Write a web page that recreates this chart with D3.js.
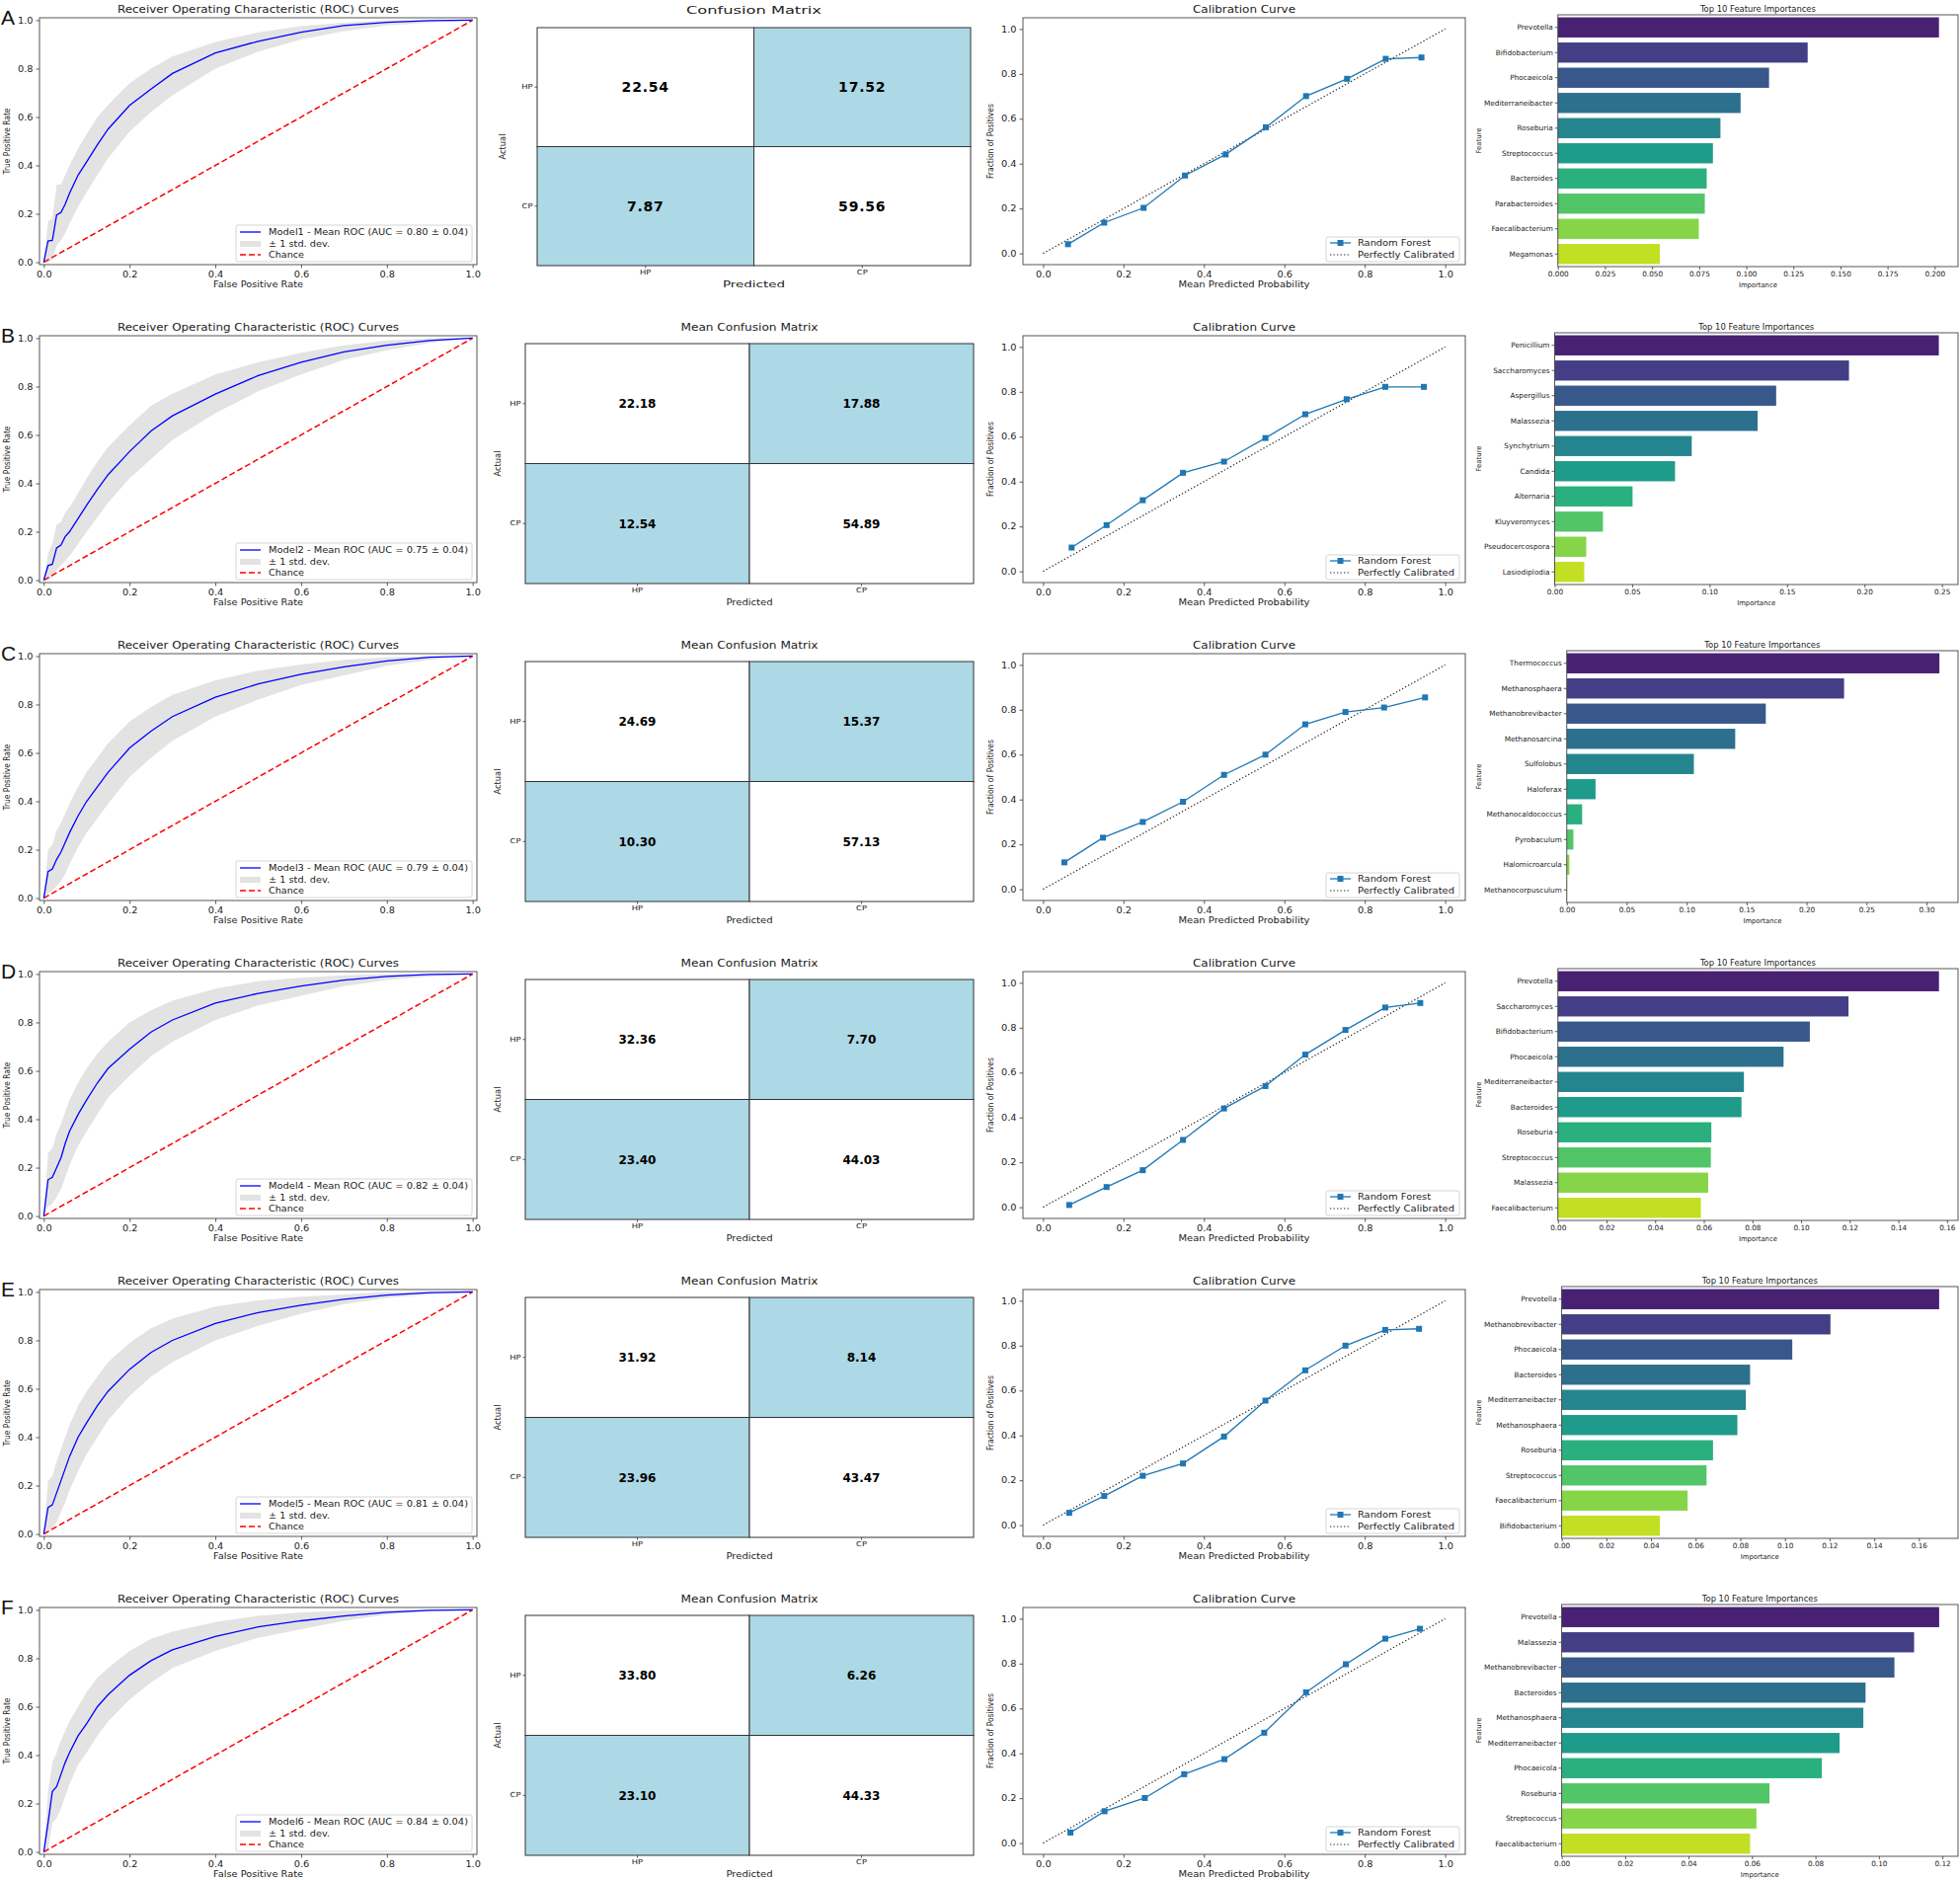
<!DOCTYPE html>
<meta charset="utf-8">
<style>
  body { margin: 0; background: #fff; }
  svg { display: block; font-family: "DejaVu Sans", sans-serif; }
</style>
<body>
<script src="https://cdn.jsdelivr.net/npm/d3@7"></script>
<script>
  'use strict';

  // ---- data ----
  const rowLetters = ["A", "B", "C", "D", "E", "F"];
  const modelNames = ["Model1", "Model2", "Model3", "Model4", "Model5", "Model6"];
  const aucMean = [0.80, 0.75, 0.79, 0.82, 0.81, 0.84];
  const aucStd = [0.04, 0.04, 0.04, 0.04, 0.04, 0.04];

  const fprGrid = [0, 0.01, 0.02, 0.03, 0.04, 0.05, 0.06, 0.08, 0.1, 0.125, 0.15, 0.2, 0.25, 0.3, 0.4, 0.5, 0.6, 0.7, 0.8, 0.9, 1.0];
  const rocMean = [
    [0, 0.088, 0.09, 0.195, 0.205, 0.24, 0.285, 0.36, 0.415, 0.485, 0.55, 0.648, 0.715, 0.78, 0.865, 0.913, 0.95, 0.978, 0.991, 0.998, 1],
    [0, 0.06, 0.066, 0.133, 0.145, 0.18, 0.2, 0.255, 0.31, 0.375, 0.436, 0.531, 0.616, 0.679, 0.769, 0.845, 0.9, 0.943, 0.971, 0.99, 1],
    [0, 0.11, 0.12, 0.16, 0.19, 0.23, 0.27, 0.34, 0.4, 0.46, 0.52, 0.62, 0.69, 0.75, 0.83, 0.885, 0.925, 0.955, 0.98, 0.995, 1],
    [0, 0.15, 0.16, 0.2, 0.24, 0.3, 0.35, 0.42, 0.48, 0.55, 0.61, 0.69, 0.76, 0.81, 0.88, 0.92, 0.95, 0.975, 0.99, 0.998, 1],
    [0, 0.11, 0.12, 0.17, 0.22, 0.27, 0.32, 0.4, 0.46, 0.53, 0.59, 0.68, 0.75, 0.8, 0.87, 0.915, 0.945, 0.97, 0.987, 0.997, 1],
    [0, 0.12, 0.25, 0.27, 0.32, 0.37, 0.41, 0.48, 0.53, 0.6, 0.65, 0.73, 0.79, 0.835, 0.89, 0.93, 0.955, 0.975, 0.99, 0.998, 1]
  ];
  const rocUpper = [
    [0, 0.17, 0.18, 0.32, 0.32, 0.36, 0.4, 0.47, 0.53, 0.6, 0.65, 0.74, 0.8, 0.85, 0.91, 0.95, 0.975, 0.99, 1, 1, 1],
    [0, 0.11, 0.15, 0.23, 0.24, 0.28, 0.3, 0.36, 0.42, 0.49, 0.55, 0.64, 0.72, 0.77, 0.85, 0.9, 0.94, 0.97, 0.99, 1, 1],
    [0, 0.2, 0.22, 0.28, 0.31, 0.35, 0.39, 0.46, 0.52, 0.58, 0.64, 0.73, 0.79, 0.84, 0.9, 0.94, 0.965, 0.985, 0.995, 1, 1],
    [0, 0.26, 0.28, 0.34, 0.38, 0.43, 0.48, 0.55, 0.61, 0.67, 0.72, 0.8, 0.85, 0.89, 0.94, 0.97, 0.985, 0.995, 1, 1, 1],
    [0, 0.22, 0.24, 0.3, 0.35, 0.4, 0.45, 0.53, 0.59, 0.65, 0.71, 0.79, 0.85, 0.89, 0.94, 0.965, 0.98, 0.99, 1, 1, 1],
    [0, 0.25, 0.37, 0.41, 0.46, 0.5, 0.54, 0.6, 0.66, 0.72, 0.76, 0.83, 0.88, 0.91, 0.95, 0.975, 0.99, 0.997, 1, 1, 1]
  ];
  const rocLower = [
    [0, 0, 0.01, 0.07, 0.09, 0.12, 0.16, 0.23, 0.29, 0.36, 0.43, 0.54, 0.62, 0.69, 0.8, 0.87, 0.92, 0.955, 0.978, 0.99, 1],
    [0, 0, 0.01, 0.04, 0.06, 0.08, 0.1, 0.15, 0.2, 0.26, 0.32, 0.42, 0.5, 0.58, 0.69, 0.78, 0.85, 0.91, 0.95, 0.98, 1],
    [0, 0.02, 0.03, 0.05, 0.07, 0.1, 0.14, 0.21, 0.27, 0.33, 0.39, 0.5, 0.58, 0.65, 0.75, 0.82, 0.88, 0.92, 0.96, 0.985, 1],
    [0, 0.04, 0.05, 0.08, 0.11, 0.16, 0.21, 0.29, 0.35, 0.42, 0.49, 0.58, 0.66, 0.72, 0.81, 0.87, 0.91, 0.95, 0.975, 0.99, 1],
    [0, 0.01, 0.02, 0.05, 0.09, 0.13, 0.18, 0.26, 0.33, 0.4, 0.47, 0.57, 0.65, 0.71, 0.8, 0.86, 0.91, 0.95, 0.975, 0.99, 1],
    [0, 0.01, 0.12, 0.14, 0.18, 0.23, 0.28, 0.36, 0.41, 0.48, 0.54, 0.63, 0.7, 0.76, 0.83, 0.885, 0.92, 0.955, 0.98, 0.995, 1]
  ];

  const cmLabels = ["HP", "CP"];
  const cmTitles = ["Confusion Matrix", "Mean Confusion Matrix", "Mean Confusion Matrix",
                    "Mean Confusion Matrix", "Mean Confusion Matrix", "Mean Confusion Matrix"];
  // [HP-HP, HP-CP, CP-HP, CP-CP]
  const cmValues = [
    [22.54, 17.52, 7.87, 59.56],
    [22.18, 17.88, 12.54, 54.89],
    [24.69, 15.37, 10.30, 57.13],
    [32.36, 7.70, 23.40, 44.03],
    [31.92, 8.14, 23.96, 43.47],
    [33.80, 6.26, 23.10, 44.33]
  ];

  const calibPred = [
    [0.062, 0.152, 0.25, 0.353, 0.454, 0.554, 0.654, 0.756, 0.852, 0.941],
    [0.071, 0.158, 0.248, 0.348, 0.45, 0.553, 0.652, 0.755, 0.851, 0.947],
    [0.053, 0.149, 0.248, 0.348, 0.45, 0.553, 0.652, 0.752, 0.848, 0.95],
    [0.065, 0.158, 0.248, 0.348, 0.45, 0.553, 0.652, 0.752, 0.851, 0.938],
    [0.065, 0.152, 0.248, 0.348, 0.45, 0.553, 0.652, 0.752, 0.851, 0.935],
    [0.068, 0.153, 0.253, 0.351, 0.451, 0.55, 0.654, 0.753, 0.851, 0.937]
  ];
  const calibFrac = [
    [0.041, 0.137, 0.203, 0.347, 0.441, 0.562, 0.701, 0.778, 0.867, 0.873],
    [0.106, 0.206, 0.317, 0.439, 0.489, 0.594, 0.7, 0.767, 0.822, 0.822],
    [0.12, 0.23, 0.30, 0.39, 0.51, 0.60, 0.735, 0.79, 0.81, 0.855],
    [0.01, 0.09, 0.165, 0.30, 0.44, 0.54, 0.68, 0.79, 0.89, 0.91],
    [0.055, 0.13, 0.22, 0.275, 0.395, 0.555, 0.69, 0.80, 0.87, 0.875],
    [0.047, 0.142, 0.201, 0.307, 0.374, 0.492, 0.672, 0.797, 0.911, 0.955]
  ];

  const featureNames = [
    ["Prevotella", "Bifidobacterium", "Phocaeicola", "Mediterraneibacter", "Roseburia", "Streptococcus", "Bacteroides", "Parabacteroides", "Faecalibacterium", "Megamonas"],
    ["Penicillium", "Saccharomyces", "Aspergillus", "Malassezia", "Synchytrium", "Candida", "Alternaria", "Kluyveromyces", "Pseudocercospora", "Lasiodiplodia"],
    ["Thermococcus", "Methanosphaera", "Methanobrevibacter", "Methanosarcina", "Sulfolobus", "Haloferax", "Methanocaldococcus", "Pyrobaculum", "Halomicroarcula", "Methanocorpusculum"],
    ["Prevotella", "Saccharomyces", "Bifidobacterium", "Phocaeicola", "Mediterraneibacter", "Bacteroides", "Roseburia", "Streptococcus", "Malassezia", "Faecalibacterium"],
    ["Prevotella", "Methanobrevibacter", "Phocaeicola", "Bacteroides", "Mediterraneibacter", "Methanosphaera", "Roseburia", "Streptococcus", "Faecalibacterium", "Bifidobacterium"],
    ["Prevotella", "Malassezia", "Methanobrevibacter", "Bacteroides", "Methanosphaera", "Mediterraneibacter", "Phocaeicola", "Roseburia", "Streptococcus", "Faecalibacterium"]
  ];
  const featureImportance = [
    [0.2023, 0.1326, 0.1121, 0.0970, 0.0863, 0.0823, 0.0790, 0.0780, 0.0748, 0.0541],
    [0.248, 0.190, 0.143, 0.131, 0.0885, 0.0777, 0.0503, 0.0312, 0.0204, 0.0191],
    [0.3108, 0.2313, 0.166, 0.1405, 0.106, 0.024, 0.0128, 0.0055, 0.0022, 0.0003],
    [0.1567, 0.1195, 0.1036, 0.0928, 0.0765, 0.0755, 0.0631, 0.0629, 0.0618, 0.0588],
    [0.1691, 0.1204, 0.1033, 0.0844, 0.0825, 0.0787, 0.0678, 0.0649, 0.0564, 0.044],
    [0.119, 0.1111, 0.1049, 0.0958, 0.0951, 0.0876, 0.082, 0.0655, 0.0614, 0.0594]
  ];
  const featureTickStep = [0.025, 0.05, 0.05, 0.02, 0.02, 0.02];
  const featureTickFormat = [".3f", ".2f", ".2f", ".2f", ".2f", ".2f"];
  const unitTicks = [0, 0.2, 0.4, 0.6, 0.8, 1.0];

  // ---- layout ----
  const W = 1985, H = 1904;
  const firstTop = 18, rowPitch = 322, axH = 250;

  const svg = d3.select("body").append("svg")
      .attr("width", W).attr("height", H);
  svg.append("rect").attr("width", W).attr("height", H).attr("fill", "#fff");

  // the source figure was stretched sideways, so horizontal text runs wide
  function stretchText(sel, sx) {
    sel.each(function() {
      const x = +this.getAttribute("x") || 0;
      this.setAttribute("x", x / sx);
      this.setAttribute("transform", `scale(${sx},1)`);
    });
  }

  function styleAxis(g, fs, sx) {
    g.attr("font-family", null).attr("font-size", fs);
    g.select(".domain").remove();
    g.selectAll(".tick line").attr("stroke", "#333").attr("stroke-width", 0.8);
    g.selectAll(".tick text").attr("fill", "#222");
    if (sx) stretchText(g.selectAll(".tick text"), sx);
  }

  function frame(g, x0, y0, x1, y1) {
    g.append("rect").attr("x", x0).attr("y", y0)
        .attr("width", x1 - x0).attr("height", y1 - y0)
        .attr("fill", "none").attr("stroke", "#444").attr("stroke-width", 0.9);
  }

  function label(g, x, y, text, fs, len, anchor) {
    const t = g.append("text").attr("x", x).attr("y", y)
        .attr("text-anchor", anchor || "middle").attr("font-size", fs).attr("fill", "#222")
        .text(text);
    if (len) t.attr("textLength", len).attr("lengthAdjust", "spacingAndGlyphs");
    return t;
  }

  function yLabel(g, x, yc, text, len, fs) {
    g.append("text")
        .attr("transform", `translate(${x},${yc}) rotate(-90)`)
        .attr("text-anchor", "middle").attr("font-size", fs).attr("fill", "#222")
        .attr("textLength", len).attr("lengthAdjust", "spacingAndGlyphs")
        .text(text);
  }

  function rocPanel(g, i, top) {
    const left = 40, right = 483, bottom = top + axH;
    const x = d3.scaleLinear().domain([-0.01, 1.01]).range([left, right]);
    const y = d3.scaleLinear().domain([-0.01, 1.01]).range([bottom, top]);
    const pts = fprGrid.map((f, k) => ({f, m: rocMean[i][k], u: rocUpper[i][k], l: rocLower[i][k]}));

    g.append("path").datum(pts)
        .attr("d", d3.area().x(d => x(d.f)).y0(d => y(d.l)).y1(d => y(d.u)))
        .attr("fill", "grey").attr("fill-opacity", 0.22);
    g.append("path").datum([0, 1])
        .attr("d", d3.line().x(d => x(d)).y(d => y(d)))
        .attr("stroke", "red").attr("stroke-width", 1.5).attr("stroke-dasharray", "6,3")
        .attr("fill", "none");
    g.append("path").datum(pts)
        .attr("d", d3.line().x(d => x(d.f)).y(d => y(d.m)))
        .attr("stroke", "blue").attr("stroke-width", 1.3).attr("fill", "none");

    styleAxis(g.append("g").attr("transform", `translate(0,${bottom})`)
        .call(d3.axisBottom(x).tickValues(unitTicks).tickFormat(d3.format(".1f")).tickSize(3.5)), 8.5, 1.15);
    styleAxis(g.append("g").attr("transform", `translate(${left},0)`)
        .call(d3.axisLeft(y).tickValues(unitTicks).tickFormat(d3.format(".1f")).tickSize(3.5)), 8.5, 1.15);
    frame(g, left, top, right, bottom);

    label(g, (left + right) / 2, top - 5, "Receiver Operating Characteristic (ROC) Curves", 10, 285);
    label(g, (left + right) / 2, top + 273, "False Positive Rate", 8.5, 91);
    yLabel(g, 10, (top + bottom) / 2, "True Positive Rate", 67, 8.5);

    // legend
    const lg = g.append("g");
    lg.append("rect").attr("x", 239).attr("y", top + 210).attr("width", 239).attr("height", 37)
        .attr("rx", 2).attr("fill", "#fff").attr("fill-opacity", 0.85)
        .attr("stroke", "#ccc").attr("stroke-width", 0.8);
    const rowsY = [top + 217, top + 229, top + 240];
    lg.append("line").attr("x1", 243).attr("x2", 264).attr("y1", rowsY[0]).attr("y2", rowsY[0])
        .attr("stroke", "blue").attr("stroke-width", 1.3);
    lg.append("rect").attr("x", 243).attr("y", rowsY[1] - 3).attr("width", 21).attr("height", 6)
        .attr("fill", "grey").attr("fill-opacity", 0.22);
    lg.append("line").attr("x1", 243).attr("x2", 264).attr("y1", rowsY[2]).attr("y2", rowsY[2])
        .attr("stroke", "red").attr("stroke-width", 1.5).attr("stroke-dasharray", "6,3");
    const legTexts = [
      `${modelNames[i]} - Mean ROC (AUC = ${aucMean[i].toFixed(2)} \u00b1 ${aucStd[i].toFixed(2)})`,
      "\u00b1 1 std. dev.",
      "Chance"
    ];
    const legLen = [202, 62, 36];
    legTexts.forEach((t, k) => label(lg, 272, rowsY[k] + 3, t, 8.5, legLen[k], "start"));

    g.append("text").attr("x", 1).attr("y", top + 7)
        .attr("font-family", "Liberation Sans, Arial, sans-serif")
        .attr("font-size", 21).attr("fill", "#111")
        .text(rowLetters[i]);
  }

  function cmPanel(g, i, top) {
    const big = i === 0;
    const left = big ? 544 : 532, right = big ? 983 : 986;
    const y0 = top + (big ? 10 : 8), y1 = top + 251;
    const x = d3.scaleBand().domain(cmLabels).range([left, right]);
    const y = d3.scaleBand().domain(cmLabels).range([y0, y1]);
    const cells = cmValues[i].map((v, k) => ({v, r: cmLabels[Math.floor(k / 2)], c: cmLabels[k % 2], off: Math.floor(k / 2) !== k % 2}));

    g.selectAll("rect.cell").data(cells).join("rect")
        .attr("class", "cell")
        .attr("x", d => x(d.c)).attr("y", d => y(d.r))
        .attr("width", x.bandwidth()).attr("height", y.bandwidth())
        .attr("fill", d => d.off ? "#add8e6" : "#fff")
        .attr("stroke", "#333").attr("stroke-width", 1);
    const numFs = big ? 14 : 12;
    g.selectAll("text.val").data(cells).join("text")
        .attr("class", "val")
        .attr("x", d => x(d.c) + x.bandwidth() / 2)
        .attr("y", d => y(d.r) + y.bandwidth() / 2 + numFs * 0.36)
        .attr("text-anchor", "middle").attr("font-weight", "bold")
        .attr("font-size", numFs).attr("fill", "#000")
        .attr("letter-spacing", big ? 0.8 : 0)
        .text(d => d.v.toFixed(2));

    styleAxis(g.append("g").attr("transform", `translate(0,${y1})`)
        .call(d3.axisBottom(x).tickSize(2.5).tickPadding(2)), 7, 1.2);
    styleAxis(g.append("g").attr("transform", `translate(${left},0)`)
        .call(d3.axisLeft(y).tickSize(2.5).tickPadding(2)), 7, 1.2);

    label(g, (left + right) / 2, top - (big ? 4 : 5), cmTitles[i], big ? 11 : 10.5, big ? 137 : 139);
    label(g, (left + right) / 2, top + 273, "Predicted", big ? 9.5 : 9, big ? 63 : 47);
    yLabel(g, big ? 512 : 507, (y0 + y1) / 2, "Actual", 26, 9);
  }

  function calibPanel(g, i, top) {
    const left = 1036, right = 1484, bottom = top + axH;
    const x = d3.scaleLinear().domain([-0.05, 1.05]).range([left, right]);
    const y = d3.scaleLinear().domain([-0.05, 1.05]).range([bottom, top]);
    const pts = calibPred[i].map((p, k) => ({p, f: calibFrac[i][k]}));

    g.append("path").datum([0, 1])
        .attr("d", d3.line().x(d => x(d)).y(d => y(d)))
        .attr("stroke", "#222").attr("stroke-width", 1.2).attr("stroke-dasharray", "1.3,2.2")
        .attr("fill", "none");
    g.append("path").datum(pts)
        .attr("d", d3.line().x(d => x(d.p)).y(d => y(d.f)))
        .attr("stroke", "#1f77b4").attr("stroke-width", 1.3).attr("fill", "none");
    g.selectAll("rect.mk").data(pts).join("rect")
        .attr("class", "mk")
        .attr("x", d => x(d.p) - 3).attr("y", d => y(d.f) - 3)
        .attr("width", 6).attr("height", 6).attr("fill", "#1f77b4");

    styleAxis(g.append("g").attr("transform", `translate(0,${bottom})`)
        .call(d3.axisBottom(x).tickValues(unitTicks).tickFormat(d3.format(".1f")).tickSize(3.5)), 8.5, 1.15);
    styleAxis(g.append("g").attr("transform", `translate(${left},0)`)
        .call(d3.axisLeft(y).tickValues(unitTicks).tickFormat(d3.format(".1f")).tickSize(3.5)), 8.5, 1.15);
    frame(g, left, top, right, bottom);

    label(g, (left + right) / 2, top - 5, "Calibration Curve", 10, 104);
    label(g, (left + right) / 2, top + 273, "Mean Predicted Probability", 8.5, 133);
    yLabel(g, 1006, (top + bottom) / 2, "Fraction of Positives", 76, 8.5);

    const lg = g.append("g");
    lg.append("rect").attr("x", 1343).attr("y", top + 222).attr("width", 135).attr("height", 25)
        .attr("rx", 2).attr("fill", "#fff").attr("fill-opacity", 0.85)
        .attr("stroke", "#ccc").attr("stroke-width", 0.8);
    const ly = [top + 228, top + 240];
    lg.append("line").attr("x1", 1347).attr("x2", 1368).attr("y1", ly[0]).attr("y2", ly[0])
        .attr("stroke", "#1f77b4").attr("stroke-width", 1.3);
    lg.append("rect").attr("x", 1354.5).attr("y", ly[0] - 3).attr("width", 6).attr("height", 6)
        .attr("fill", "#1f77b4");
    lg.append("line").attr("x1", 1347).attr("x2", 1368).attr("y1", ly[1]).attr("y2", ly[1])
        .attr("stroke", "#222").attr("stroke-width", 1.2).attr("stroke-dasharray", "1.3,2.2");
    label(lg, 1375, ly[0] + 3, "Random Forest", 9, 74, "start");
    label(lg, 1375, ly[1] + 3, "Perfectly Calibrated", 9, 98, "start");
  }

  function featurePanel(g, i, top) {
    const fs = 7.3;
    // measure the longest category label to place the axis like tight_layout
    const probe = g.append("text").attr("font-size", fs);
    let maxW = 0;
    featureNames[i].forEach(n => { probe.text(n); maxW = Math.max(maxW, probe.node().getComputedTextLength()); });
    probe.remove();

    const left = 1503 + maxW + 5, right = 1983;
    const y0 = top - 3, y1 = top + 252;
    const vmax = d3.max(featureImportance[i]);
    const x = d3.scaleLinear().domain([0, vmax * 1.05]).range([left, right]);
    const y = d3.scaleBand().domain(featureNames[i]).range([y0, y1]).paddingInner(0.2).paddingOuter(0.1);
    const color = k => d3.interpolateViridis((k + 1) / 11);

    g.selectAll("rect.bar").data(featureImportance[i]).join("rect")
        .attr("class", "bar")
        .attr("x", x(0)).attr("y", (d, k) => y(featureNames[i][k]))
        .attr("width", d => x(d) - x(0)).attr("height", y.bandwidth())
        .attr("fill", (d, k) => color(k));

    const step = featureTickStep[i];
    const ticks = d3.range(0, vmax * 1.05 + 1e-9, step);
    styleAxis(g.append("g").attr("transform", `translate(0,${y1})`)
        .call(d3.axisBottom(x).tickValues(ticks).tickFormat(d3.format(featureTickFormat[i])).tickSize(3).tickPadding(2)), fs);
    styleAxis(g.append("g").attr("transform", `translate(${left},0)`)
        .call(d3.axisLeft(y).tickSize(3).tickPadding(2)), fs);
    frame(g, left, y0, right, y1);

    label(g, (left + right) / 2, top - 6, "Top 10 Feature Importances", 8, 117);
    label(g, (left + right) / 2, y1 + 20.5, "Importance", 7, 39);
    yLabel(g, 1500, (y0 + y1) / 2, "Feature", 26, 7);
  }

  rowLetters.forEach((letter, i) => {
    const top = firstTop + i * rowPitch;
    const g = svg.append("g").attr("class", "row row-" + letter);
    rocPanel(g.append("g"), i, top);
    cmPanel(g.append("g"), i, top);
    calibPanel(g.append("g"), i, top);
    featurePanel(g.append("g"), i, top);
  });
</script>
